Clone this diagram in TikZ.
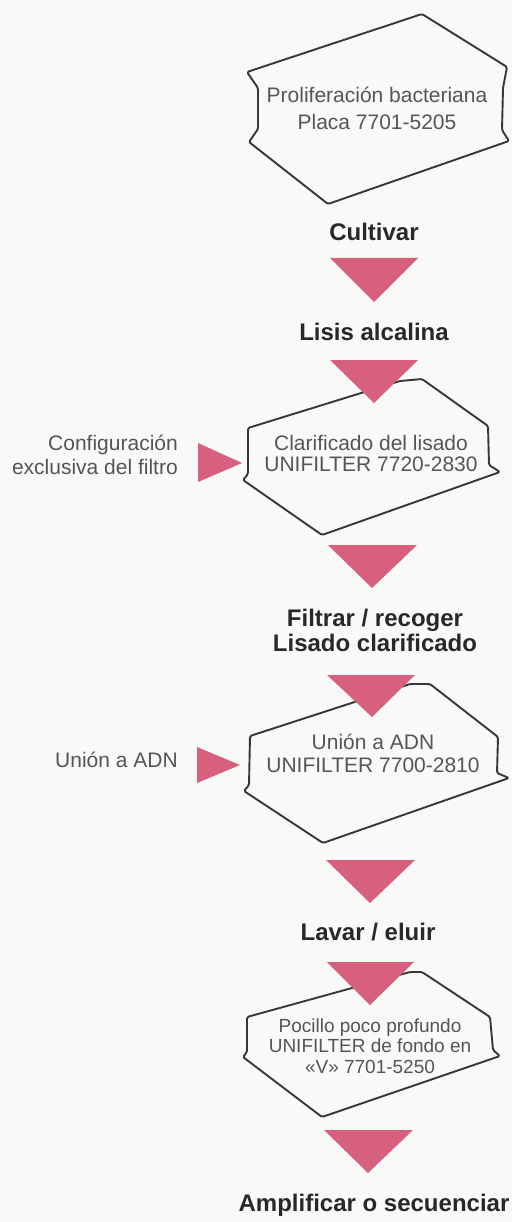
\documentclass[tikz,border=0pt]{standalone}
\usepackage{fontspec}
\setmainfont{Liberation Sans}
\definecolor{pinkc}{RGB}{214,96,126}
\definecolor{linec}{RGB}{55,55,55}
\definecolor{txtc}{RGB}{85,85,85}
\definecolor{boldc}{RGB}{40,40,40}
\definecolor{bgc}{RGB}{249,249,248}
\begin{document}
\begin{tikzpicture}[x=1pt,y=-1pt,
  lighttext/.style={text=txtc, align=center, inner sep=0pt, font=\fontsize{21}{#1}\selectfont},
  lighttext/.default=22,
  smalltext/.style={text=txtc, align=center, inner sep=0pt, font=\fontsize{19}{20.5}\selectfont},
  steptext/.style={text=boldc, align=center, inner sep=0pt, font=\bfseries\fontsize{24}{25}\selectfont},
  sidetext/.style={text=txtc, align=right, inner sep=0pt, anchor=east, font=\fontsize{21}{24}\selectfont},
  outline/.style={draw=linec, line width=1.9pt, line join=round, rounded corners=1.5pt},
  tri/.style={fill=pinkc}]
\fill[bgc] (0,0) rectangle (512,1222);
\useasboundingbox (0,0) rectangle (512,1222);

% outlines
\draw[outline] (422,14) -- (507,67) -- (503,88) -- (502,130) -- (509,141) -- (328,204) -- (249,142) -- (258,129) -- (258,88) -- (247,72) -- cycle;
\draw[outline] (248,428) -- (400,381) -- (422,379) -- (488,426) -- (489,465) -- (500,472) -- (322,535) -- (243,480) -- (248,474) -- cycle;
\draw[outline] (250,736) -- (410,684) -- (430,684) -- (498,737) -- (497,773) -- (509,778) -- (323,843) -- (244,791) -- (249,785) -- cycle;
\draw[outline] (247,1017) -- (410,972) -- (422,972) -- (490,1017) -- (493,1050) -- (500,1056) -- (322,1117) -- (243,1057) -- (247,1052) -- cycle;

% box texts
\node[lighttext=27] (plate) at (377,108.5) {Proliferación bacteriana\\Placa 7701-5205};
\node[lighttext=21] (clar) at (371,453) {Clarificado del lisado\\UNIFILTER 7720-2830};
\node[lighttext=23] (union) at (373,753.5) {Unión a ADN\\UNIFILTER 7700-2810};
\node[smalltext] (pocillo) at (370,1046) {Pocillo poco profundo\\UNIFILTER de fondo en\\«V» 7701-5250};

% step labels
\node[steptext] (cult) at (374,232) {Cultivar};
\node[steptext] (lisis) at (374,332) {Lisis alcalina};
\node[steptext] (filt) at (375,630) {Filtrar / recoger\\Lisado clarificado};
\node[steptext] (lavar) at (368,932) {Lavar / eluir};
\node[steptext] (ampl) at (374,1205) {Amplificar o secuenciar};

% side labels
\node[sidetext] (conf) at (178,455) {Configuración\\exclusiva del filtro};
\node[sidetext] (uniside) at (178,760) {Unión a ADN};

% down triangles
\fill[tri] (330,258) -- (418,258) -- (374,302) -- cycle;
\fill[tri] (330,360) -- (418,360) -- (374,403) -- cycle;
\fill[tri] (328,545) -- (417,545) -- (372,588) -- cycle;
\fill[tri] (327,675) -- (415,675) -- (372,717) -- cycle;
\fill[tri] (326,860) -- (415,860) -- (370,903) -- cycle;
\fill[tri] (327,962) -- (414,962) -- (370,1005) -- cycle;
\fill[tri] (324,1130) -- (413,1130) -- (368,1173) -- cycle;

% side pointers
\fill[tri] (198,443) -- (242,463) -- (198,482) -- cycle;
\fill[tri] (197,747) -- (240,765) -- (197,783) -- cycle;
\end{tikzpicture}
\end{document}
